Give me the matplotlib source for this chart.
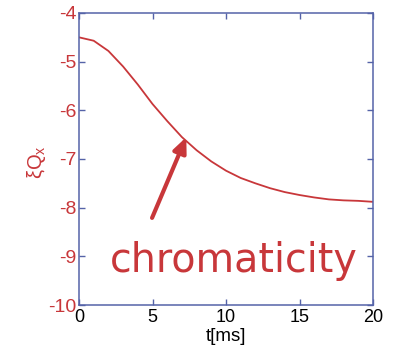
import matplotlib
matplotlib.use("Agg")
import matplotlib.pyplot as plt

t_ms = [0, 1, 2, 3, 4, 5, 6, 7, 8, 9, 10, 11, 12, 13, 14, 15, 16, 17, 18, 19, 20]
xi_qx = [-4.5, -4.57, -4.78, -5.1, -5.47, -5.87, -6.22, -6.55, -6.82, -7.05, -7.24,
         -7.39, -7.5, -7.6, -7.68, -7.74, -7.79, -7.83, -7.85, -7.86, -7.88]
x_ticks = [0, 5, 10, 15, 20]
y_ticks = [-10, -9, -8, -7, -6, -5, -4]

RED = "#c8373a"
FRAME = "#5563a8"

plt.rcParams['font.family'] = ['Liberation Sans', 'DejaVu Sans']

fig = plt.figure(figsize=(3.98, 3.54), dpi=100)
ax = fig.add_axes([0.1985, 0.1384, 0.7387, 0.8249])
ax.plot(t_ms, xi_qx, color=RED, lw=1.3)
ax.set_xlim(0, 20)
ax.set_ylim(-10, -4)
ax.set_xticks(x_ticks)
ax.set_yticks(y_ticks)
ax.set_xticklabels([str(v) for v in x_ticks], fontsize=13, color="black")
ax.set_yticklabels([str(v) for v in y_ticks], fontsize=14, color=RED)
ax.tick_params(direction="in", length=4, width=1, color=FRAME, top=True, right=True)
ax.tick_params(axis="x", pad=3)
ax.tick_params(axis="y", pad=2)
for s in ax.spines.values():
    s.set_color(FRAME)
    s.set_linewidth(1.1)
ax.set_xlabel("t[ms]", fontsize=13.5, labelpad=1)
ax.set_ylabel("ξQ$_{\\mathregular{x}}$", fontsize=14.5, color=RED)
ax.yaxis.set_label_coords(-0.105, 0.49)

ax.annotate("", xy=(7.3, -6.55), xytext=(4.97, -8.21),
            arrowprops=dict(arrowstyle="-|>,head_length=0.9,head_width=0.4", color=RED, lw=3, shrinkA=0, shrinkB=0))
ax.text(10.5, -9.32, "chromaticity", fontsize=28.5, color=RED, ha="center", va="baseline",
        family="DejaVu Sans")

fig.savefig("out.png", dpi=100)
